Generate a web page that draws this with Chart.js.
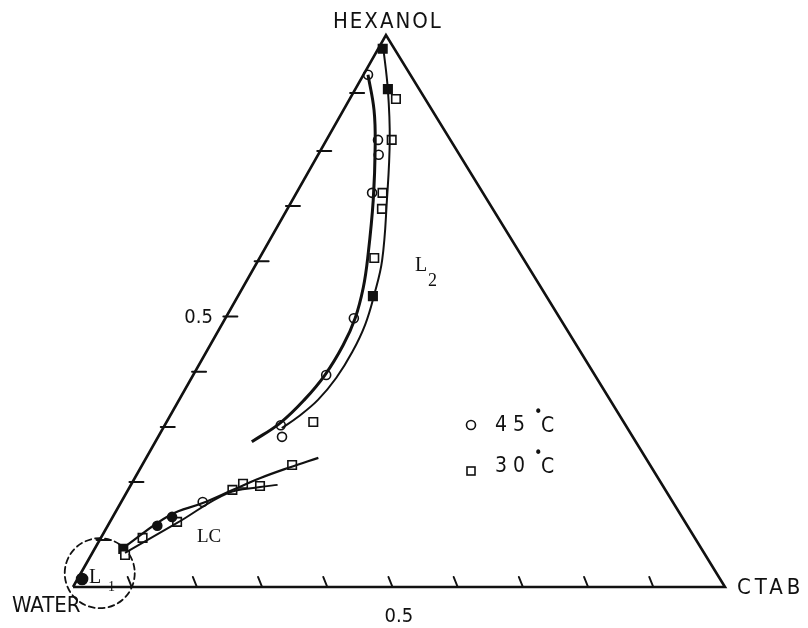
<!DOCTYPE html>
<html>
<head>
<meta charset="utf-8">
<script src="https://cdn.jsdelivr.net/npm/chart.js@4/dist/chart.umd.min.js"></script>
<style>
body{margin:0;background:#fff}
</style>
</head>
<body>
<canvas id="phase" width="808" height="628"></canvas>
<script>
// compositions as [CTAB, HEXANOL] fractions, water is the remainder
const SKEW = 0.48;

const VERTICES = [[0,0],[1,0],[0,1],[0,0]];

const BASE_TICKS = [0.09,0.19,0.29,0.39,0.49,0.59,0.69,0.79,0.89];
const LEFT_TICKS = [0.085,0.19,0.29,0.39,0.49,0.59,0.69,0.79,0.895];

const CIRCLES_45 = [[0.007,0.928],[0.079,0.810],[0.093,0.783],[0.116,0.714],[0.197,0.487],[0.204,0.384],[0.178,0.293],[0.190,0.272],[0.125,0.154]];
const CIRCLES_45_FILLED = [[0.091,0.127],[0.076,0.111]];
const SQUARES_30 = [[0.071,0.884],[0.100,0.810],[0.132,0.714],[0.145,0.685],[0.176,0.596],[0.225,0.299],[0.230,0.221],[0.171,0.187],[0.199,0.183],[0.160,0.176],[0.103,0.118],[0.064,0.089],[0.052,0.058]];
const SQUARES_30_FILLED = [[0.007,0.975],[0.050,0.902],[0.207,0.527],[0.044,0.069]];
const L1_POINT = [[0.007,0.0145]];

const CURVE_45 = [[0.007,0.928],[0.047,0.864],[0.079,0.801],[0.124,0.701],[0.164,0.601],[0.185,0.542],[0.199,0.487],[0.204,0.438],[0.202,0.384],[0.192,0.339],[0.175,0.297],[0.148,0.263]];
const CURVE_30 = [[0.004,0.982],[0.051,0.900],[0.097,0.810],[0.145,0.701],[0.190,0.592],[0.208,0.529],[0.220,0.475],[0.224,0.426],[0.222,0.379],[0.213,0.339],[0.197,0.308],[0.182,0.288]];
const LC_UPPER = [[0.043,0.071],[0.086,0.130],[0.126,0.152],[0.161,0.176],[0.192,0.197],[0.229,0.217],[0.264,0.234]];
const LC_LOWER = [[0.050,0.062],[0.104,0.116],[0.156,0.170],[0.200,0.181],[0.225,0.185]];

const L1_RING = [0.029,0.025];

const INK = "#111";

function toXY(rows){
return rows.map(([c,h])=>({x:c+SKEW*h,y:h}));
}

function curve(rows,width){
return {
data:toXY(rows),
showLine:true,
borderColor:INK,
borderWidth:width,
pointRadius:0,
tension:0.4,
clip:false
};
}

function markers(rows,style,radius,fill){
return {
data:toXY(rows),
showLine:false,
pointStyle:style,
pointRadius:radius,
pointBorderWidth:1.6,
pointBorderColor:INK,
pointBackgroundColor:fill,
clip:false
};
}

const labels = {
id:"labels",
afterDatasetsDraw(chart){
const {ctx,scales:{x,y}} = chart;
const P=(c,h)=>[x.getPixelForValue(c+SKEW*h),y.getPixelForValue(h)];

ctx.save();
ctx.strokeStyle=INK;
ctx.fillStyle=INK;
ctx.lineWidth=2;
ctx.lineCap="round";

BASE_TICKS.forEach(t=>{
const [px,py]=P(t,0);
ctx.beginPath();ctx.moveTo(px,py);ctx.lineTo(px-4,py-10);ctx.stroke();
});

LEFT_TICKS.forEach(t=>{
const [px,py]=P(0,t);
ctx.beginPath();ctx.moveTo(px-3,py);ctx.lineTo(px+11,py);ctx.stroke();
});

// dashed ring round the L1 region
const [rx,ry]=P(L1_RING[0],L1_RING[1]);
ctx.setLineDash([6,4]);
ctx.lineWidth=1.8;
ctx.beginPath();ctx.arc(rx,ry,35,0,Math.PI*2);ctx.stroke();
ctx.setLineDash([]);

const sans='"DejaVu Sans Condensed","DejaVu Sans",sans-serif';
const serif='"Liberation Serif","DejaVu Serif",serif';
ctx.textBaseline="middle";
ctx.textAlign="left";

const [wx,wy]=P(0,0), [cx,cy]=P(1,0), [hx,hy]=P(0,1);

ctx.font="22px "+sans;
ctx.letterSpacing="2px";
ctx.fillText("HEXANOL",hx-53,hy-13);
ctx.letterSpacing="0px";
ctx.fillText("WATER",wx-61,wy+19);
ctx.letterSpacing="4px";
ctx.fillText("CTAB",cx+12,cy+1);

ctx.font="20px "+sans;
ctx.letterSpacing="0px";
const [bx,by]=P(0.49,0);
ctx.fillText("0.5",bx-8,by+30);
const [lx,ly]=P(0,0.49);
ctx.fillText("0.5",lx-42,ly+1);

// legend
ctx.lineWidth=1.6;
ctx.beginPath();ctx.arc(471,425,4.5,0,Math.PI*2);ctx.stroke();
ctx.strokeRect(467,467,8,8);
ctx.font="21px "+sans;
ctx.letterSpacing="6px";
ctx.fillText("45",495,426);
ctx.fillText("30",495,467);
ctx.letterSpacing="0px";
ctx.font="16px "+sans;
ctx.fillText("•",534,413);
ctx.fillText("•",534,454);
ctx.font="21px "+sans;
ctx.fillText("C",541,427);
ctx.fillText("C",541,468);

// phase region names
ctx.font="20px "+serif;
ctx.fillText("L",415,266);
ctx.fillText("L",89,578);
ctx.font="19px "+serif;
ctx.fillText("LC",197,537);
ctx.font="18px "+serif;
ctx.fillText("2",428,281);
ctx.font="14px "+serif;
ctx.fillText("1",108,587);

ctx.restore();
}
};

new Chart(document.getElementById("phase"),{
type:"scatter",
data:{
datasets:[
{
data:toXY(VERTICES),
showLine:true,
borderColor:INK,
borderWidth:2.6,
pointRadius:0,
tension:0,
clip:false
},
curve(CURVE_45,3),
curve(CURVE_30,2),
curve(LC_UPPER,2.2),
curve(LC_LOWER,2),
markers(CIRCLES_45,"circle",4.5,"#fff"),
markers(CIRCLES_45_FILLED,"circle",4.5,INK),
markers(SQUARES_30,"rect",6,"#fff"),
markers(SQUARES_30_FILLED,"rect",6,INK),
markers(L1_POINT,"circle",5.5,INK)
]
},
options:{
responsive:false,
animation:false,
events:[],
layout:{padding:{left:73,right:83,top:35,bottom:41}},
plugins:{legend:{display:false},tooltip:{enabled:false}},
scales:{
x:{type:"linear",min:0,max:1,display:false},
y:{type:"linear",min:0,max:1,display:false}
}
},
plugins:[labels]
});
</script>
</body>
</html>
